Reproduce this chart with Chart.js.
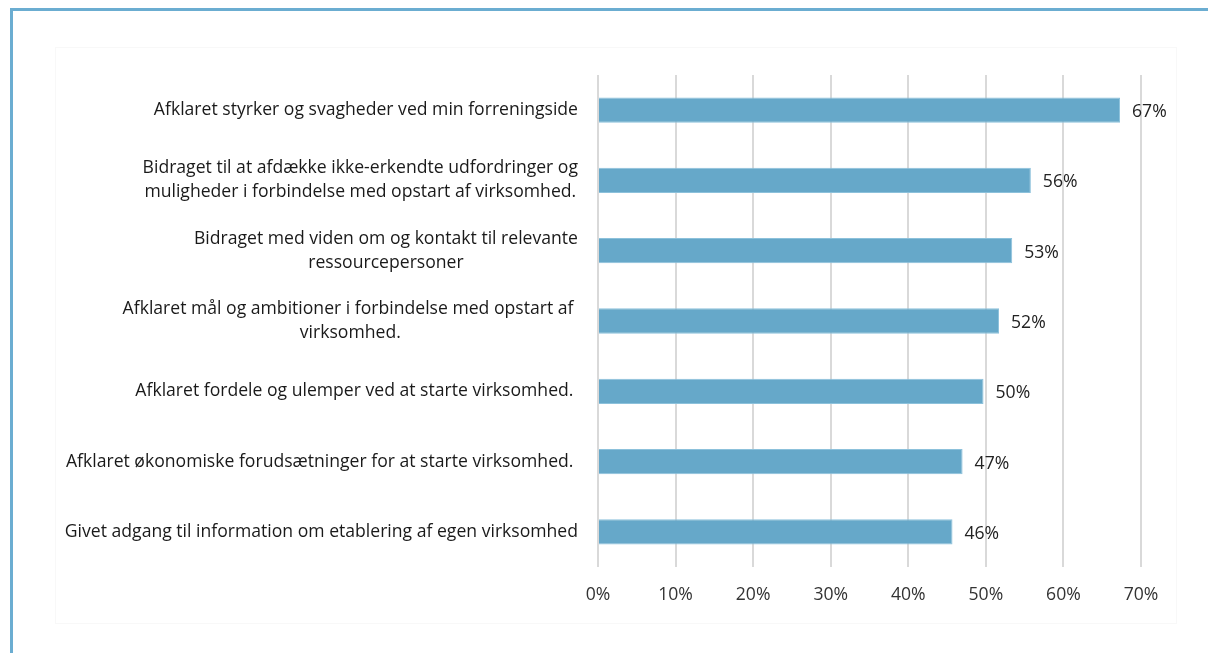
<!DOCTYPE html>
<html>
<head>
<meta charset="utf-8">
<script src="https://cdn.jsdelivr.net/npm/chart.js@4/dist/chart.umd.min.js"></script>
<style>
  html, body { margin: 0; padding: 0; background: #fff; overflow: hidden; }
  #frame { position: absolute; left: 10px; top: 8px; width: 1300px; height: 700px;
           border-left: 3px solid #6badd1; border-top: 3px solid #6badd1; }
  #plotbox { position: absolute; left: 55px; top: 47px; width: 1120px; height: 575px;
             border: 1px solid #f8f8f8; }
  #wrap { position: absolute; left: 0; top: 0; width: 1208px; height: 653px; }
</style>
</head>
<body>
<div id="frame"></div>
<div id="plotbox"></div>
<div id="wrap"><canvas id="c" width="1208" height="653"></canvas></div>
<script>
// categories (top to bottom)
var categories = [
  ["Afklaret styrker og svagheder ved min forreningside"],
  ["Bidraget til at afdække ikke-erkendte udfordringer og", "muligheder i forbindelse med opstart af virksomhed."],
  ["Bidraget med viden om og kontakt til relevante", "ressourcepersoner"],
  ["Afklaret mål og ambitioner i forbindelse med opstart af ", "virksomhed."],
  ["Afklaret fordele og ulemper ved at starte virksomhed. "],
  ["Afklaret økonomiske forudsætninger for at starte virksomhed. "],
  ["Givet adgang til information om etablering af egen virksomhed"]
];
// share in percent
var values = [67.3, 55.8, 53.4, 51.7, 49.7, 47.0, 45.7];
var xTicks = [0, 10, 20, 30, 40, 50, 60, 70];

var FONT = "'Open Sans', 'Noto Sans', sans-serif";
var FS = 17.6;

// category labels: block right aligned, lines centered in the block
var catLabels = {
  id: "catLabels",
  afterDraw: function (chart) {
    var ctx = chart.ctx, ys = chart.scales.y;
    var right = ys.right - 20, lh = 24;
    ctx.save();
    ctx.font = FS + "px " + FONT;
    ctx.fillStyle = "#1a1a1a";
    ctx.textAlign = "center";
    ctx.textBaseline = "middle";
    categories.forEach(function (lines, i) {
      var w = 0;
      lines.forEach(function (l) { w = Math.max(w, ctx.measureText(l).width); });
      var cx = right - w / 2;
      var y0 = ys.getPixelForTick(i) - (lines.length - 1) * lh / 2;
      lines.forEach(function (l, k) { ctx.fillText(l, cx, y0 + k * lh); });
    });
    ctx.restore();
  }
};

// value labels right of each bar
var valLabels = {
  id: "valLabels",
  afterDatasetsDraw: function (chart) {
    var ctx = chart.ctx, meta = chart.getDatasetMeta(0);
    ctx.save();
    ctx.font = FS + "px " + FONT;
    ctx.fillStyle = "#222";
    ctx.textAlign = "left";
    ctx.textBaseline = "middle";
    meta.data.forEach(function (bar, i) {
      ctx.fillText(Math.round(values[i]) + "%", bar.x + 12, bar.y + 2);
    });
    ctx.restore();
  }
};

new Chart(document.getElementById("c"), {
  type: "bar",
  data: {
    labels: categories.map(function (l) { return l.join(" "); }),
    datasets: [{
      data: values,
      backgroundColor: "#66a8c9",
      borderColor: "#8cc1db",
      borderWidth: 1,
      barPercentage: 0.36,
      categoryPercentage: 1
    }]
  },
  options: {
    indexAxis: "y",
    responsive: false,
    animation: false,
    layout: { padding: { top: 75, right: 67, left: 0, bottom: 0 } },
    plugins: { legend: { display: false }, tooltip: { enabled: false } },
    scales: {
      x: {
        min: 0, max: 70,
        afterBuildTicks: function (s) { s.ticks = xTicks.map(function (v) { return { value: v }; }); },
        grid: { color: "#d9d9d9", lineWidth: 2, drawTicks: false },
        border: { display: false },
        ticks: {
          padding: 17,
          color: "#333",
          font: { family: FONT, size: FS },
          callback: function (v) { return v + "%"; }
        },
        afterFit: function (s) { s.height = 653 - 567; }
      },
      y: {
        grid: { display: false, drawTicks: false },
        border: { display: false },
        ticks: { display: false },
        afterFit: function (s) { s.width = 598; }
      }
    }
  },
  plugins: [catLabels, valLabels]
});
</script>
</body>
</html>
